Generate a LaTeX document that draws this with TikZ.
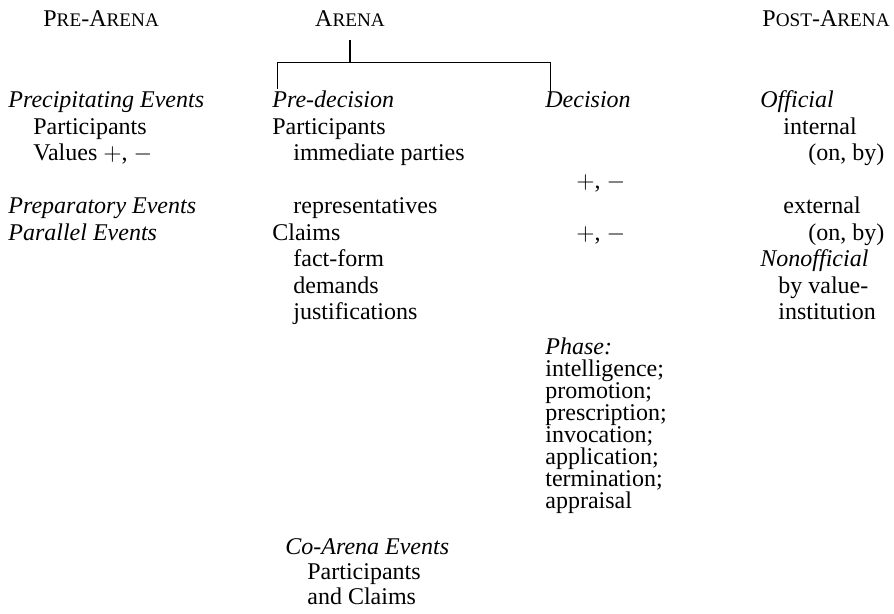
\documentclass[tikz,border=0pt]{standalone}
\usepackage{fontspec}
\setmainfont{Liberation Serif}
\usetikzlibrary{positioning}

% fake small capitals
\newcommand{\smc}[1]{{\fontsize{9.6}{10}\selectfont #1}}

\begin{document}
\begin{tikzpicture}[x=0.5pt,y=-0.5pt,
    txt/.style={anchor=base west,inner sep=0pt,font=\fontsize{12}{13}\selectfont},
    ital/.style={txt,font=\fontsize{12}{13}\selectfont\itshape}]
    \useasboundingbox (0,0) rectangle (894,614);

    \begin{scope} % Headings
        \node[txt] (pre)   at (43,27)  {P\smc{RE}-A\smc{RENA}};
        \node[txt,anchor=base] (arena) at (350,27) {A\smc{RENA}};
        \node[txt] (post)  at (762,27) {P\smc{OST}-A\smc{RENA}};
    \end{scope}

    \begin{scope} % Bracket under the arena
        \coordinate (stem)  at (350,40);
        \coordinate (joint) at (350,62);
        \coordinate (brL) at (277,62);
        \coordinate (brR) at (550,62);
        \draw[line width=0.8pt] (stem) -- (joint);
        \draw (brL) -- (brR);
        \draw (brL) -- ++(0,27);
        \draw (brR) -- ++(0,30);
    \end{scope}

    % Rows: baseline 108, step 26.5
    \begin{scope} % Pre-arena column
        \node[ital] (precip) at (8,108)    {Precipitating Events};
        \node[txt]  (ppart)  at (33,134.5) {Participants};
        \node[txt]  (pval)   at (33,161)   {Values $+$, $-$};
        \node[ital] (prep)   at (8,214)    {Preparatory Events};
        \node[ital] (para)   at (8,240.5)  {Parallel Events};
    \end{scope}

    \begin{scope} % Pre-decision column
        \node[ital] (predec) at (272,108)   {Pre-decision};
        \node[txt]  (apart)  at (272,134.5) {Participants};
        \node[txt]  (imm)    at (293,161)   {immediate parties};
        \node[txt]  (rep)    at (293,214)   {representatives};
        \node[txt]  (claims) at (272,240.5) {Claims};
        \node[txt]  (fact)   at (293,267)   {fact-form};
        \node[txt]  (dem)    at (293,293.5) {demands};
        \node[txt]  (just)   at (293,320)   {justifications};
        % Co-arena events
        \node[ital] (coar)   at (285,554) {Co-Arena Events};
        \node[txt]  (copart) at (307,579) {Participants};
        \node[txt]  (cocl)   at (307,604) {and Claims};
    \end{scope}

    \begin{scope} % Decision column
        \node[ital] (dec)   at (545,108)   {Decision};
        \node[txt]  (valA)  at (576,189)   {$+$, $-$};
        \node[txt]  (valB)  at (576,240.5) {$+$, $-$};
        \node[ital] (phase) at (545,355)   {Phase:};
        \foreach \w [count=\i] in {intelligence;, promotion;, prescription;,
            invocation;, application;, termination;, appraisal}
            \node[txt] (ph\i) at (545,355+22*\i) {\w};
    \end{scope}

    \begin{scope} % Post-arena column
        \node[ital] (off)   at (760,108)   {Official};
        \node[txt]  (intl)  at (783,134.5) {internal};
        \node[txt]  (onA)   at (808,161)   {(on, by)};
        \node[txt]  (extl)  at (783,214)   {external};
        \node[txt]  (onB)   at (808,240.5) {(on, by)};
        \node[ital] (nonof) at (760,267)   {Nonofficial};
        \node[txt]  (byval) at (778,293.5) {by value-};
        \node[txt]  (inst)  at (778,320)   {institution};
    \end{scope}
\end{tikzpicture}
\end{document}
